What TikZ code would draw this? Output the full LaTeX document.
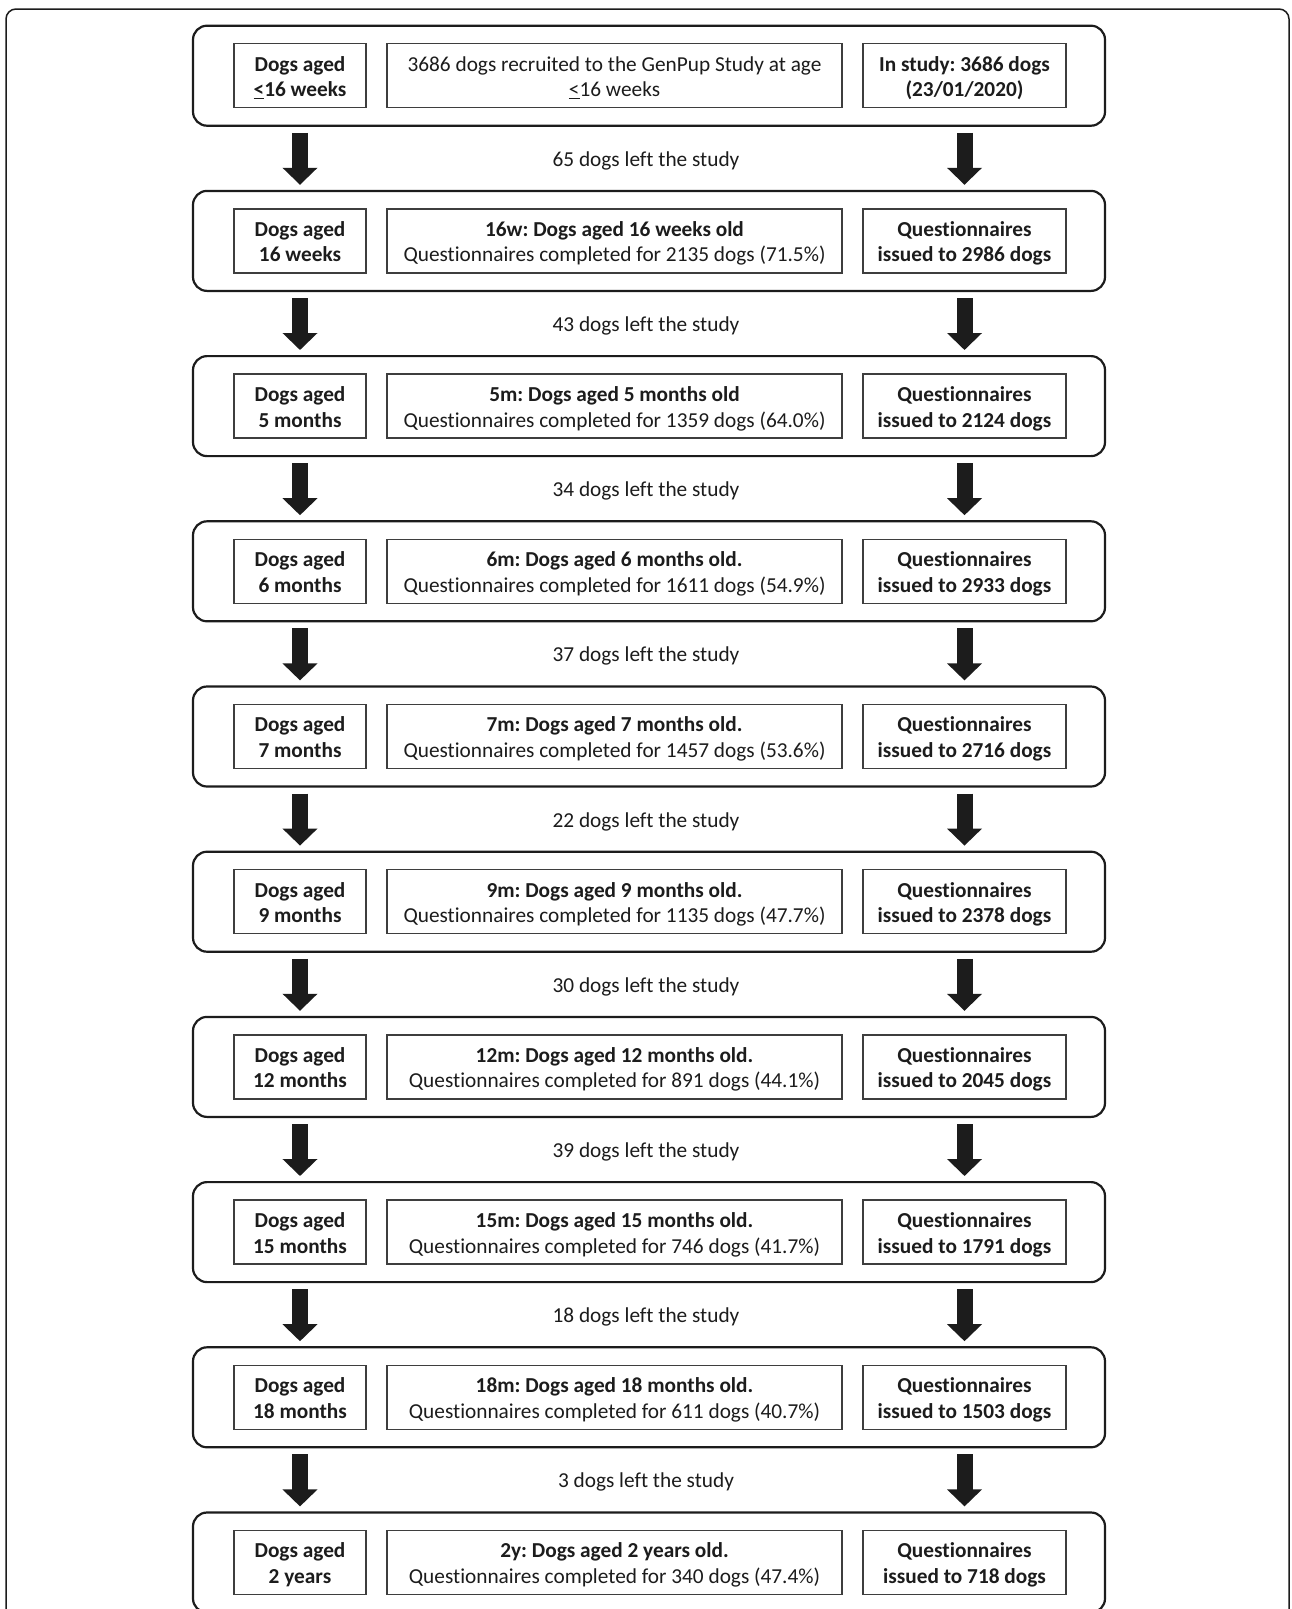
\documentclass[tikz,border=0pt]{standalone}
\usepackage{fontspec}
\setmainfont{Carlito}[RawFeature={-liga}]
\usetikzlibrary{arrows.meta}
\frenchspacing
\definecolor{ink}{HTML}{1C1C1C}
\newcommand\txt{\fontsize{21.3}{25.7}\selectfont}
\tikzset{
  grp/.style={draw=ink, line width=2.2pt, rounded corners=14pt, minimum width=912pt, minimum height=100pt, inner sep=0pt},
  bx/.style={draw=ink!85, line width=1.4pt, inner sep=0pt, minimum height=64pt, align=center, font=\txt, text=ink,
    text height=46pt, text depth=4pt},
  lbox/.style={bx, minimum width=132pt, font=\txt\bfseries},
  mbox/.style={bx, minimum width=455pt},
  rbox/.style={bx, minimum width=203pt, font=\txt\bfseries},
  bigarrow/.style={draw=ink, line width=16pt, -{Triangle[width=34pt,length=17pt]}},
  leftlbl/.style={font=\txt, text=ink, inner sep=0pt, anchor=base},
  frame/.style={draw=ink, line width=1.5pt, rounded corners=10pt}
}
\newcommand\genrow[4]{%
  \pgfmathsetmacro\T{25.7+165.2*#1}
  \node[grp] (g#1) at (649,\T+50) {};
  \node[lbox] (l#1) at (300,\T+50) {#2};
  \node[mbox] (m#1) at (614.5,\T+50) {#3};
  \node[rbox] (r#1) at (964.5,\T+50) {#4};
}
\begin{document}
\begin{tikzpicture}[x=1pt,y=-1pt]
\useasboundingbox (0,0) rectangle (1292,1609);
\clip (0,0) rectangle (1292,1609);
\fill[white] (0,0) rectangle (1292,1609);
\draw[frame] (6,9) rectangle (1289,1660);

\genrow{0}{Dogs aged\\\underline{<}16 weeks}{3686 dogs recruited to the GenPup Study at age\\\underline{<}16 weeks}{In study: 3686 dogs\\(23/01/2020)}
\genrow{1}{Dogs aged\\16 weeks}{{\bfseries 16w: Dogs aged 16 weeks old}\\Questionnaires completed for 2135 dogs (71.5\%)}{Questionnaires\\issued to 2986 dogs}
\genrow{2}{Dogs aged\\5 months}{{\bfseries 5m: Dogs aged 5 months old}\\Questionnaires completed for 1359 dogs (64.0\%)}{Questionnaires\\issued to 2124 dogs}
\genrow{3}{Dogs aged\\6 months}{{\bfseries 6m: Dogs aged 6 months old.}\\Questionnaires completed for 1611 dogs (54.9\%)}{Questionnaires\\issued to 2933 dogs}
\genrow{4}{Dogs aged\\7 months}{{\bfseries 7m: Dogs aged 7 months old.}\\Questionnaires completed for 1457 dogs (53.6\%)}{Questionnaires\\issued to 2716 dogs}
\genrow{5}{Dogs aged\\9 months}{{\bfseries 9m: Dogs aged 9 months old.}\\Questionnaires completed for 1135 dogs (47.7\%)}{Questionnaires\\issued to 2378 dogs}
\genrow{6}{Dogs aged\\12 months}{{\bfseries 12m: Dogs aged 12 months old.}\\Questionnaires completed for 891 dogs (44.1\%)}{Questionnaires\\issued to 2045 dogs}
\genrow{7}{Dogs aged\\15 months}{{\bfseries 15m: Dogs aged 15 months old.}\\Questionnaires completed for 746 dogs (41.7\%)}{Questionnaires\\issued to 1791 dogs}
\genrow{8}{Dogs aged\\18 months}{{\bfseries 18m: Dogs aged 18 months old.}\\Questionnaires completed for 611 dogs (40.7\%)}{Questionnaires\\issued to 1503 dogs}
\genrow{9}{Dogs aged\\2 years}{{\bfseries 2y: Dogs aged 2 years old.}\\Questionnaires completed for 340 dogs (47.4\%)}{Questionnaires\\issued to 718 dogs}

\foreach \i/\n in {0/65,1/43,2/34,3/37,4/22,5/30,6/39,7/18,8/3}{
  \pgfmathtruncatemacro\j{\i+1}
  \pgfmathsetmacro\T{25.7+165.2*\i}
  \draw[bigarrow, shorten <=6pt, shorten >=5pt] (g\i.south -| l\i.center) -- (g\j.north -| l\j.center);
  \draw[bigarrow, shorten <=6pt, shorten >=5pt] (g\i.south -| r\i.center) -- (g\j.north -| r\j.center);
  \node[leftlbl] (x\i) at (646,\T+140.5) {\n\ dogs left the study};
}
\end{tikzpicture}
\end{document}
